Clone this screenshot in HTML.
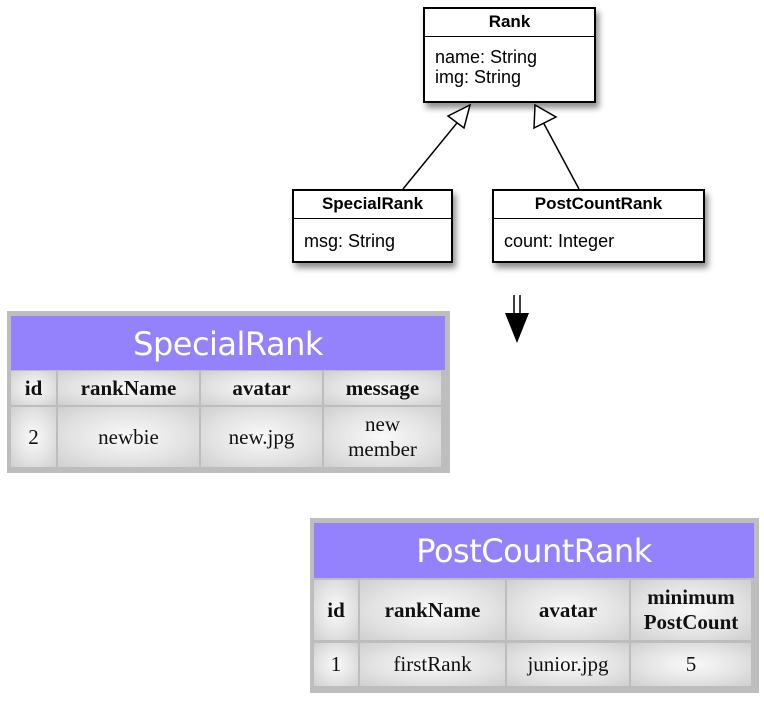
<!DOCTYPE html>
<html><head><meta charset="utf-8"><style>
body{margin:0;width:764px;height:702px;background:#fff;position:relative;overflow:hidden;font-family:"Liberation Sans",sans-serif}
.a{position:absolute;box-sizing:border-box}
.uml{border:2px solid #000;background:#fff;box-shadow:3px 5px 6px rgba(0,0,0,.45)}
.uml .t{font-weight:bold;font-size:17px;text-align:center;border-bottom:1.5px solid #000;height:27px;line-height:26px}
.uml .b{font-size:18px;padding:10px 0 0 10px;line-height:20px}
.tb{background:#bdbdbd}
.ph{background:#9382fb;color:#fff;font-size:32px;text-align:center;font-family:"DejaVu Sans","Liberation Sans",sans-serif;letter-spacing:-0.5px}
.c{background:radial-gradient(ellipse at center,#fafafa 0%,#e2e2e2 60%,#cfcfcf 100%);font-family:"Liberation Serif",serif;font-size:21px;display:flex;align-items:center;justify-content:center;text-align:center;line-height:25px;color:#111}
.h{font-weight:bold}
</style></head><body>
<div class="a uml" style="left:423px;top:7px;width:173px;height:96px"><div class="t">Rank</div><div class="b">name: String<br>img: String</div></div>
<div class="a uml" style="left:292px;top:189px;width:161px;height:74px"><div class="t">SpecialRank</div><div class="b" style="padding-top:12px">msg: String</div></div>
<div class="a uml" style="left:492px;top:189px;width:213px;height:74px"><div class="t">PostCountRank</div><div class="b" style="padding-top:12px">count: Integer</div></div>
<svg class="a" style="left:0;top:0" width="764" height="360">
<line x1="403" y1="189" x2="461" y2="118" stroke="#000" stroke-width="1.5"/>
<polygon points="470,105 448,116 464,128" fill="#fff" stroke="#000" stroke-width="1.5"/>
<line x1="579" y1="189" x2="543" y2="122" stroke="#000" stroke-width="1.5"/>
<polygon points="535,105 534,128 556,117" fill="#fff" stroke="#000" stroke-width="1.5"/>
<line x1="514" y1="295" x2="514" y2="318" stroke="#000" stroke-width="1.5"/>
<line x1="520" y1="295" x2="520" y2="318" stroke="#000" stroke-width="1.5"/>
<polygon points="505,313 529,313 517,343" fill="#000"/>
</svg>

<div class="a tb" style="left:7px;top:311px;width:443px;height:162px"></div>
<div class="a ph" style="left:11px;top:316px;width:434px;height:54px;line-height:56px">SpecialRank</div>
<div class="a c h" style="left:11px;top:371px;width:45px;height:34px">id</div>
<div class="a c h" style="left:58px;top:371px;width:141px;height:34px">rankName</div>
<div class="a c h" style="left:201px;top:371px;width:121px;height:34px">avatar</div>
<div class="a c h" style="left:324px;top:371px;width:117px;height:34px">message</div>
<div class="a c" style="left:11px;top:407px;width:45px;height:60px">2</div>
<div class="a c" style="left:58px;top:407px;width:141px;height:60px">newbie</div>
<div class="a c" style="left:201px;top:407px;width:121px;height:60px">new.jpg</div>
<div class="a c" style="left:324px;top:407px;width:117px;height:60px">new<br>member</div>

<div class="a tb" style="left:310px;top:518px;width:449px;height:175px"></div>
<div class="a ph" style="left:314px;top:523px;width:440px;height:55px;line-height:57px">PostCountRank</div>
<div class="a c h" style="left:314px;top:580px;width:44px;height:60px">id</div>
<div class="a c h" style="left:360px;top:580px;width:145px;height:60px">rankName</div>
<div class="a c h" style="left:507px;top:580px;width:122px;height:60px">avatar</div>
<div class="a c h" style="left:631px;top:580px;width:120px;height:60px">minimum<br>PostCount</div>
<div class="a c" style="left:314px;top:643px;width:44px;height:43px">1</div>
<div class="a c" style="left:360px;top:643px;width:145px;height:43px">firstRank</div>
<div class="a c" style="left:507px;top:643px;width:122px;height:43px">junior.jpg</div>
<div class="a c" style="left:631px;top:643px;width:120px;height:43px">5</div>
</body></html>
